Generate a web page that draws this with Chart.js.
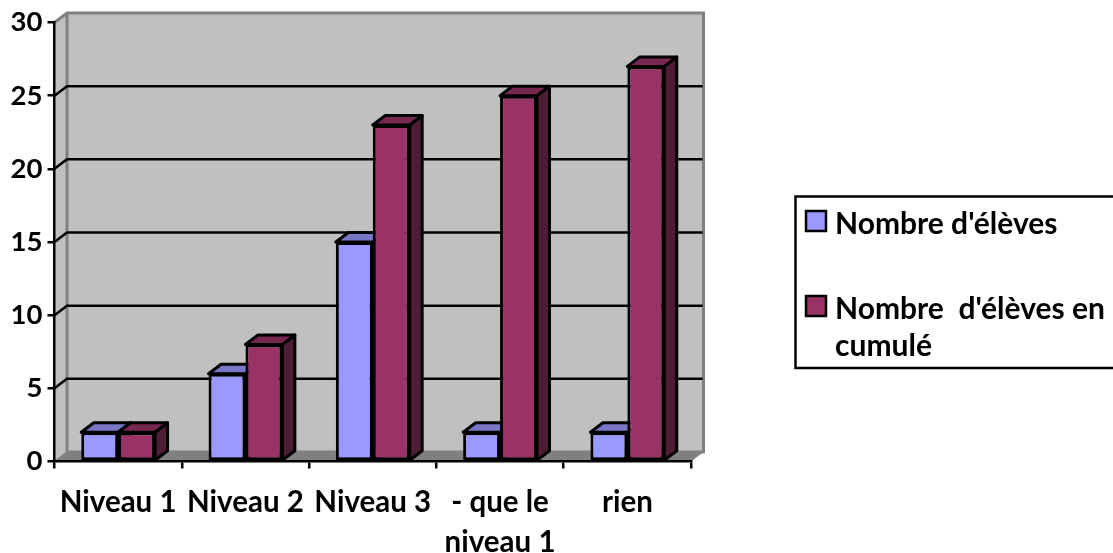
<!DOCTYPE html>
<html><head><meta charset="utf-8">
<style>html,body{margin:0;padding:0;background:#fff}canvas{display:block}</style>
<script src="https://cdn.jsdelivr.net/npm/chart.js@4"></script>
</head><body><canvas id="c" width="1113" height="553"></canvas>
<script>
const categories = ["Niveau 1","Niveau 2","Niveau 3",["- que le","niveau 1"],"rien"];
const eleves = [2,6,15,2,2];
const cumul = [2,8,23,25,27];
const seriesNames = ["Nombre d'élèves","Nombre  d'élèves en cumulé"];
const legendLines = [["Nombre d'élèves"],["Nombre  d'élèves en","cumulé"]];
const yTicks = [0,5,10,15,20,25,30];

const DX = 12.5, DY = 9.5;
const FONT = 'bold 30px Lato';
const palette = [
  {front:'#9999FF', top:'#7777C6', side:'#4A4A80'},
  {front:'#993366', top:'#772850', side:'#4F1C36'}
];
function poly(ctx, pts, fill, stroke, lw){
  ctx.beginPath();
  pts.forEach((p,i)=> i?ctx.lineTo(p[0],p[1]):ctx.moveTo(p[0],p[1]));
  ctx.closePath();
  if(fill){ctx.fillStyle=fill;ctx.fill();}
  if(stroke){ctx.strokeStyle=stroke;ctx.lineWidth=lw;ctx.lineJoin='round';ctx.stroke();}
}
const walls = {
  id:'walls',
  beforeDraw(chart){
    const {ctx,chartArea:a,scales:{y}} = chart;
    const L=a.left,R=a.right,T=a.top,B=a.bottom;
    ctx.save();
    poly(ctx,[[L+DX,T-DY],[R+DX,T-DY],[R+DX,B-DY],[L+DX,B-DY]],'#C0C0C0');
    poly(ctx,[[L,T],[L+DX,T-DY],[L+DX,B-DY],[L,B]],'#C0C0C0');
    poly(ctx,[[L,B],[R,B],[R+DX,B-DY],[L+DX,B-DY]],'#808080');
    ctx.strokeStyle='#808080';ctx.lineWidth=3;
    ctx.beginPath();
    ctx.moveTo(L,T);ctx.lineTo(L+DX,T-DY);ctx.lineTo(R+DX,T-DY);ctx.lineTo(R+DX,B-DY);
    ctx.lineTo(L+DX,B-DY);ctx.lineTo(L+DX,T-DY);ctx.stroke();
    ctx.beginPath();ctx.moveTo(L,B);ctx.lineTo(L+DX,B-DY);ctx.lineWidth=1.5;ctx.stroke();
    ctx.strokeStyle='#000';ctx.lineWidth=2.5;
    yTicks.forEach(v=>{
      if(v===0||v===30) return;
      const py=y.getPixelForValue(v);
      ctx.beginPath();ctx.moveTo(L,py);ctx.lineTo(L+DX,py-DY);ctx.lineTo(R+DX-1,py-DY);ctx.stroke();
    });
    ctx.restore();
  },
  beforeDatasetsDraw(chart){
    const ctx=chart.ctx;
    ctx.save();
    chart.data.datasets.forEach((ds,i)=>{
      chart.getDatasetMeta(i).data.forEach(bar=>{
        const l=bar.x-bar.width/2,r=bar.x+bar.width/2,t=bar.y,b=bar.base;
        poly(ctx,[[r,t],[r+DX,t-DY],[r+DX,b-DY],[r,b]],palette[i].side,'#000',3);
        poly(ctx,[[l,t],[l+DX,t-DY],[r+DX,t-DY],[r,t]],palette[i].top,'#000',3);
      });
    });
    ctx.restore();
  },
  afterDraw(chart){
    const ctx=chart.ctx;
    ctx.save();
    ctx.strokeStyle='#000';ctx.lineWidth=2.5;
    ctx.beginPath();ctx.moveTo(1115,196.5);ctx.lineTo(795.5,196.5);ctx.lineTo(795.5,368);ctx.lineTo(1115,368);ctx.stroke();
    const swatchY=[211,296], textY=[[234],[319,356]];
    ctx.font=FONT;ctx.fillStyle='#000';ctx.textBaseline='alphabetic';ctx.textAlign='left';
    legendLines.forEach((lines,i)=>{
      ctx.fillStyle=palette[i].front;
      ctx.fillRect(806,swatchY[i],20,20);
      ctx.strokeStyle='#000';ctx.lineWidth=2.5;
      ctx.strokeRect(806,swatchY[i],20,20);
      ctx.fillStyle='#000';
      lines.forEach((s,j)=>ctx.fillText(s,835,textY[i][j]));
    });
    ctx.restore();
  }
};
new Chart(document.getElementById('c'),{
  type:'bar',
  data:{labels:categories,datasets:[
    {label:seriesNames[0],data:eleves,backgroundColor:palette[0].front,borderColor:'#000',borderWidth:3,borderSkipped:false,barPercentage:1,categoryPercentage:0.58},
    {label:seriesNames[1],data:cumul,backgroundColor:palette[1].front,borderColor:'#000',borderWidth:3,borderSkipped:false,barPercentage:1,categoryPercentage:0.58}
  ]},
  options:{
    responsive:false,animation:false,
    layout:{padding:{top:22.5,right:422,left:0,bottom:0}},
    plugins:{legend:{display:false},tooltip:{enabled:false},title:{display:false}},
    scales:{
      x:{
        afterFit(s){s.height=91.5;},
        grid:{drawOnChartArea:false,drawTicks:true,tickLength:7,tickColor:'#000',lineWidth:2.5},
        border:{color:'#000',width:2.5},
        ticks:{color:'#000',font:{family:'Lato',weight:'bold',size:29.5,lineHeight:1.36},padding:14,maxRotation:0,minRotation:0,autoSkip:false}
      },
      y:{
        min:0,max:30,
        afterFit(s){s.width=54.5;},
        afterBuildTicks(s){s.ticks=yTicks.map(v=>({value:v}));},
        grid:{drawOnChartArea:false,drawTicks:true,tickLength:7,tickColor:'#000',lineWidth:2.5},
        border:{color:'#000',width:2.5},
        ticks:{color:'#000',font:{family:'Lato',weight:'bold',size:27.5},padding:5}
      }
    }
  },
  plugins:[walls]
});
</script></body></html>
